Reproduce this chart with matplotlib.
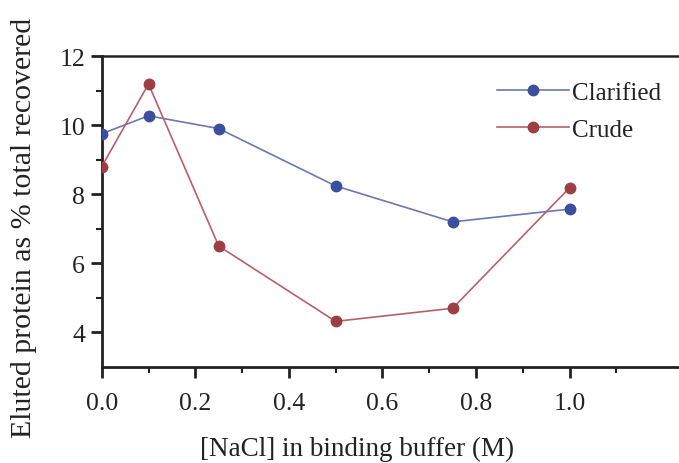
import matplotlib
matplotlib.use("Agg")
import matplotlib.pyplot as plt
from matplotlib.ticker import FixedLocator, FormatStrFormatter

nacl = [0.0, 0.1, 0.25, 0.5, 0.75, 1.0]
clarified = [9.75, 10.27, 9.9, 8.24, 7.2, 7.57]
crude = [8.8, 11.19, 6.5, 4.32, 4.70, 8.19]

plt.rcParams['font.family'] = ['Liberation Serif', 'DejaVu Serif']

fig = plt.figure(figsize=(6.79, 4.64), dpi=100)
ax = fig.add_axes([0.1498, 0.2069, 0.8502 + 0.003, 0.6702])

ax.plot(nacl, clarified, '-o', color='#6a78b4', lw=1.2, markersize=7.5,
        markerfacecolor='#3b4f9e', markeredgecolor='#3b4f9e', label='Clarified', zorder=3)
ax.plot(nacl, crude, '-o', color='#b8606a', lw=1.2, markersize=7.5,
        markerfacecolor='#9c3e44', markeredgecolor='#9c3e44', label='Crude', zorder=3)

ax.set_xlim(0, 1.238)
ax.set_ylim(3, 12)
ax.xaxis.set_major_locator(FixedLocator([0.0, 0.2, 0.4, 0.6, 0.8, 1.0]))
ax.xaxis.set_minor_locator(FixedLocator([0.1, 0.3, 0.5, 0.7, 0.9, 1.1]))
ax.yaxis.set_major_locator(FixedLocator([4, 6, 8, 10, 12]))
ax.yaxis.set_minor_locator(FixedLocator([5, 7, 9, 11]))
ax.xaxis.set_major_formatter(FormatStrFormatter('%.1f'))

ax.spines['right'].set_visible(False)
ax.spines['left'].set_linewidth(2)
ax.spines['bottom'].set_linewidth(2)
ax.spines['top'].set_linewidth(1.8)
for s in ['left', 'bottom', 'top']:
    ax.spines[s].set_color('#222222')

ax.tick_params(axis='both', which='major', direction='out', length=8, width=2,
               labelsize=18.5, colors='#222222')
ax.tick_params(axis='x', which='major', pad=10)
ax.tick_params(axis='y', which='major', pad=4)
ax.tick_params(axis='both', which='minor', direction='out', length=4, width=1.5, colors='#222222')
ax.tick_params(axis='x', which='both', top=False)
ax.tick_params(axis='y', which='both', right=False)

fig.text(0.5265, 0.004, '[NaCl] in binding buffer (M)', fontsize=19.5, color='#222222',
         ha='center', va='bottom')
fig.text(0.036, 0.5086, 'Eluted protein as % total recovered', fontsize=21.5, color='#222222',
         ha='center', va='center', rotation=90)

leg = ax.legend(loc='upper right', bbox_to_anchor=(1.005, 0.99), frameon=False, fontsize=18,
                handlelength=2.9, handletextpad=0.12, labelspacing=0.57)
for t in leg.get_texts():
    t.set_color('#222222')

fig.savefig('out.png', dpi=100, facecolor='white')
